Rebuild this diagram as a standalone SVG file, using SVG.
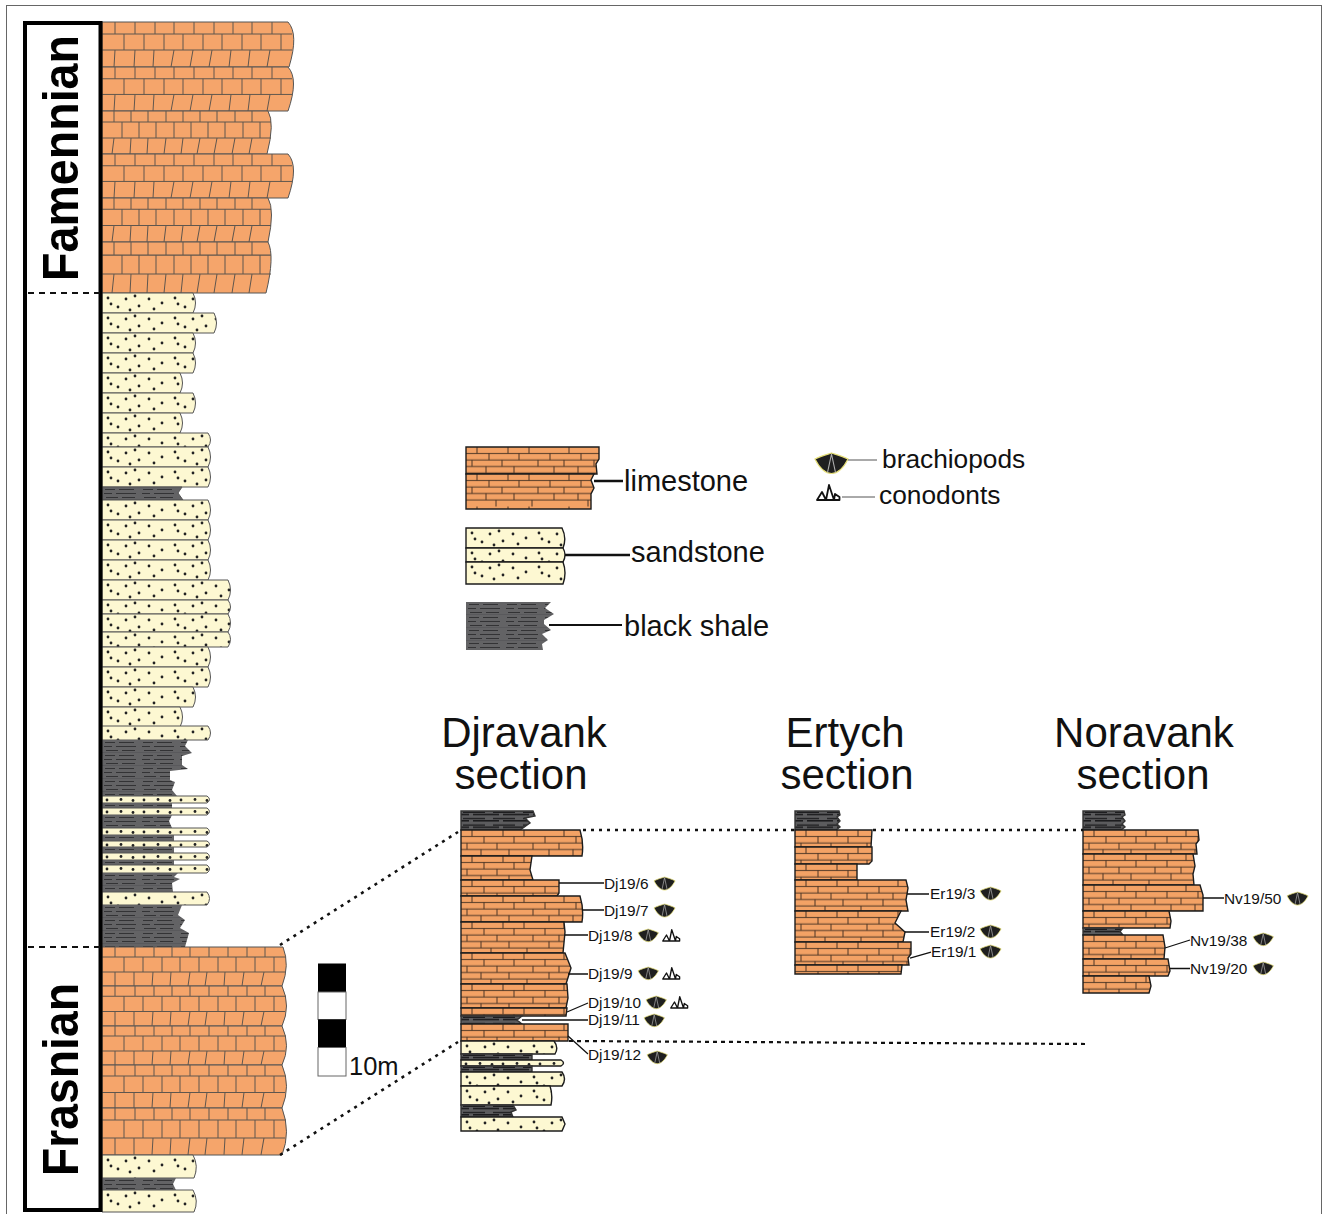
<svg xmlns="http://www.w3.org/2000/svg" xmlns:xlink="http://www.w3.org/1999/xlink" width="1324" height="1214" viewBox="0 0 1324 1214">
<style>
text{font-family:"Liberation Sans",Arial,sans-serif;fill:#111}
.per{font-size:50px;font-weight:bold;fill:#000}
.title{font-size:42px;text-anchor:middle}
.leg{font-size:29px}
.leg2{font-size:26.3px}
.lab{font-size:15.4px}
.m{stroke:#555;stroke-width:1}
.l{fill:#f5a56b}
.j{fill:none;stroke:#5f564e;stroke-width:1}
.s{stroke:#1c1c1c;stroke-width:1.4}
.lead{stroke:#111;stroke-width:1.3;fill:none}
.thick{stroke:#111;stroke-width:2.4;fill:none}
.thin{stroke:#555;stroke-width:1;fill:none}
.dot{stroke:#111;stroke-width:2.6;stroke-dasharray:3 5;fill:none}
.dash{stroke:#111;stroke-width:2.2;stroke-dasharray:6 5;fill:none}
</style>
<defs>
<path id="jF" d="M0 12H190M0 28H190M13 0V12M33 0V12M53 0V12M72 0V12M92 0V12M112 0V12M131 0V12M150 0V12M170 0V12M22 12V28M42 12V28M62 12V28M81 12V28M101 12V28M120 12V28M140 12V28M159 12V28M179 12V28M13 28L12 45M33 28L32 45M52 28L51 45M72 28L69 45M91 28L88 45M110 28L107 45M129 28L127 45M148 28L146 45M168 28L165 45"/>
<path id="jN" d="M0 11H169M0 27H169M12 0V11M29 0V11M46 0V11M64 0V11M81 0V11M98 0V11M115 0V11M133 0V11M150 0V11M20 11V27M37 11V27M54 11V27M72 11V27M89 11V27M106 11V27M123 11V27M141 11V27M158 11V27M12 27L10 43M29 27L28 43M46 27L45 43M64 27L62 43M81 27L79 43M98 27L95 43M115 27L112 43M133 27L130 43M150 27L147 43"/>
<path id="jR" d="M0 10H184M0 25H183M13 0V10M33 0V10M52 0V10M70 0V10M88 0V10M107 0V10M126 0V10M145 0V10M163 0V10M22 10V25M41 10V25M60 10V25M78 10V25M97 10V25M116 10V25M134 10V25M153 10V25M172 10V25M13 25V39M32 25V39M51 25L50 39M69 25L68 39M88 25L86 39M105 25L103 39M123 25L122 39M142 25L140 39M162 25L159 39"/>
<pattern id="limeS" patternUnits="userSpaceOnUse" width="92" height="32.5">
<rect width="92" height="32.5" fill="#f3a265"/>
<path d="M0 6.5H92M0 13H92M0 19.5H92M0 26H92M11 0V6.5M42 0V6.5M63 0V6.5M23 6.5V13M53 6.5V13M84 6.5V13M6 13V19.5M36 13V19.5M72 13V19.5M20 19.5V26M48 19.5V26M88 19.5V26M30 26V32.5M66 26V32.5" fill="none" stroke="#3a2a1e" stroke-width=".9"/>
</pattern>
<pattern id="sand" patternUnits="userSpaceOnUse" width="67" height="21" fill="#222">
<rect width="67" height="21" fill="#fdf8d2"/>
<circle cx="6" cy="5" r="1.4"/><circle cx="16" cy="14" r="1.4"/><circle cx="24" cy="6" r="1.4"/><circle cx="33" cy="3" r="1.4"/><circle cx="37" cy="13" r="1.4"/><circle cx="47" cy="6" r="1.4"/><circle cx="52" cy="16" r="1.4"/><circle cx="60" cy="10" r="1.4"/><circle cx="9" cy="11" r="1.4"/><circle cx="28" cy="17" r="1.4"/>
</pattern>
<pattern id="sandT" patternUnits="userSpaceOnUse" width="37" height="8" fill="#222">
<rect width="37" height="8" fill="#fdf8d2"/>
<circle cx="5" cy="4" r="1.4"/><circle cx="19" cy="3.5" r="1.4"/><circle cx="31" cy="4.5" r="1.4"/>
</pattern>
<pattern id="shale" patternUnits="userSpaceOnUse" width="38" height="13">
<rect width="38" height="13" fill="#636365"/>
<path d="M3 2.5H13M17 2.5H32M2 6.5H10M14 6.5H34M4 10.5H16M20 10.5H33" fill="none" stroke="#333335" stroke-width="1.1"/>
<path d="M0 12.8H38" stroke="#4c4c4e" stroke-width=".6"/>
</pattern>
<pattern id="shaleS" patternUnits="userSpaceOnUse" width="30" height="6.4">
<rect width="30" height="6.4" fill="#5c5c5e"/>
<path d="M2 1.2H24M0 3.4H8M12 3.4H30" fill="none" stroke="#141416" stroke-width="1.2"/>
</pattern>
<g id="br">
<path d="M0 6C6 3 12 1.5 16.5 0C21 1.5 27 3 33 6C29 14 23 20.5 16.5 20.5C10 20.5 4 14 0 6Z" fill="#1f1f1f" stroke="#e6df78" stroke-width="1.2"/>
<path d="M16.5 1L12.5 19.5M16.5 1L20.5 19.5" fill="none" stroke="#b0b0b0" stroke-width="1.1"/>
</g>
<g id="co">
<path d="M1 16L6 8L10 16ZM10 16L13 1L18 16ZM18 16L19 10L23.5 13V16Z" fill="#fff" stroke="#111" stroke-width="1.8" stroke-linejoin="round"/>
</g>
</defs>

<g id="frame"><rect x="6.5" y="5.5" width="1315" height="1300" fill="#fff" stroke="#666" stroke-width="1"/></g>

<g id="column">
<g class="m">
<path class="l" d="M102 22H288Q299 34 289 67H102Z"/><use href="#jF" xlink:href="#jF" class="j" x="102" y="22"/>
<path class="l" d="M102 67H288Q299 79 288 111H102Z"/><use href="#jF" xlink:href="#jF" class="j" transform="translate(102,67) scale(1,.98)"/>
<path class="l" d="M102 111H268Q275 123 267 154H102Z"/><use href="#jN" xlink:href="#jN" class="j" x="102" y="111"/>
<path class="l" d="M102 154H288Q299 166 288 198H102Z"/><use href="#jF" xlink:href="#jF" class="j" transform="translate(102,154) scale(1,.98)"/>
<path class="l" d="M102 198H268Q275 210 268 242H102Z"/><use href="#jN" xlink:href="#jN" class="j" transform="translate(102,198) scale(1,1.02)"/>
<path class="l" d="M102 242H268Q275 256 266 293H102Z"/><use href="#jN" xlink:href="#jN" class="j" transform="translate(102,242) scale(1,1.186)"/>

<path fill="url(#sand)" transform="translate(102,293)" d="M0 0H91Q96 10 91 20H0Z"/>
<path fill="url(#sand)" transform="translate(102,313)" d="M0 0H112Q117 10 112 20H0Z"/>
<path fill="url(#sand)" transform="translate(102,333)" d="M0 0H91Q96 10 91 20H0Z"/>
<path fill="url(#sand)" transform="translate(102,353)" d="M0 0H91Q96 10 91 20H0Z"/>
<path fill="url(#sand)" transform="translate(102,373)" d="M0 0H78Q83 10 78 20H0Z"/>
<path fill="url(#sand)" transform="translate(102,393)" d="M0 0H91Q96 10 91 20H0Z"/>
<path fill="url(#sand)" transform="translate(102,413)" d="M0 0H78Q83 10 78 20H0Z"/>
<path fill="url(#sand)" transform="translate(102,433)" d="M0 0H106Q111 7 106 14H0Z"/>
<path fill="url(#sand)" transform="translate(102,447)" d="M0 0H106Q111 10 106 20H0Z"/>
<path fill="url(#sand)" transform="translate(102,467)" d="M0 0H106Q111 10 106 20H0Z"/>
<path fill="url(#shale)" transform="translate(102,487)" d="M0 0H80L76 6L81 13H0Z"/>
<path fill="url(#sand)" transform="translate(102,500)" d="M0 0H106Q111 10 106 20H0Z"/>
<path fill="url(#sand)" transform="translate(102,520)" d="M0 0H106Q111 10 106 20H0Z"/>
<path fill="url(#sand)" transform="translate(102,540)" d="M0 0H106Q111 10 106 20H0Z"/>
<path fill="url(#sand)" transform="translate(102,560)" d="M0 0H106Q111 10 106 20H0Z"/>
<path fill="url(#sand)" transform="translate(102,580)" d="M0 0H126Q131 10 126 20H0Z"/>
<path fill="url(#sand)" transform="translate(102,600)" d="M0 0H126Q131 7 126 14H0Z"/>
<path fill="url(#sand)" transform="translate(102,614)" d="M0 0H126Q131 9 126 18H0Z"/>
<path fill="url(#sand)" transform="translate(102,632)" d="M0 0H126Q131 7 126 15H0Z"/>
<path fill="url(#sand)" transform="translate(102,647)" d="M0 0H106Q111 10 106 20H0Z"/>
<path fill="url(#sand)" transform="translate(102,667)" d="M0 0H106Q111 10 106 20H0Z"/>
<path fill="url(#sand)" transform="translate(102,687)" d="M0 0H91Q96 10 91 20H0Z"/>
<path fill="url(#sand)" transform="translate(102,707)" d="M0 0H78Q83 10 78 20H0Z"/>
<path fill="url(#sand)" transform="translate(102,726)" d="M0 0H106Q111 7 106 14H0Z"/>

<path fill="url(#shale)" stroke="none" transform="translate(102,740)" d="M0 0H86L83 6L90 13L80 16L80 25L86 29L68 31L68 40L73 42L70 50L75 56H0Z"/>
<path fill="url(#sandT)" transform="translate(102,796)" d="M0 0H105Q110 3.5 105 7H0Z"/>
<path fill="url(#shale)" stroke="none" transform="translate(102,803)" d="M0 0H70V5H0Z"/>
<path fill="url(#sandT)" transform="translate(102,808)" d="M0 0H105Q110 3.5 105 7H0Z"/>
<path fill="url(#shale)" stroke="none" transform="translate(102,815)" d="M0 0H70L67 6L70 13H0Z"/>
<path fill="url(#sandT)" transform="translate(102,828)" d="M0 0H105Q110 3.5 105 7H0Z"/>
<path fill="url(#shale)" stroke="none" transform="translate(102,835)" d="M0 0H72V6H0Z"/>
<path fill="url(#sandT)" transform="translate(102,841)" d="M0 0H105Q110 3 105 6H0Z"/>
<path fill="url(#shale)" stroke="none" transform="translate(102,847)" d="M0 0H72V6H0Z"/>
<path fill="url(#sandT)" transform="translate(102,853)" d="M0 0H105Q110 3.5 105 7H0Z"/>
<path fill="url(#shale)" stroke="none" transform="translate(102,860)" d="M0 0H72V5H0Z"/>
<path fill="url(#sandT)" transform="translate(102,865)" d="M0 0H105Q110 4 105 8H0Z"/>
<path fill="url(#shale)" stroke="none" transform="translate(102,873)" d="M0 0H76L72 4L78 6L70 10L71 19H0Z"/>
<path fill="url(#sand)" transform="translate(102,892)" d="M0 0H105Q110 6.5 105 13H0Z"/>
<path fill="url(#shale)" stroke="none" transform="translate(102,905)" d="M0 0H80L76 10L83 15L78 23L87 28L83 42H0Z"/>

<path class="l" d="M102 947H283Q290 965 282 986H102Z"/><use href="#jR" xlink:href="#jR" class="j" x="102" y="947"/>
<path class="l" d="M102 986H282Q291 1006 282 1026H102Z"/><use href="#jR" xlink:href="#jR" class="j" transform="translate(102,986) scale(1,1.02)"/>
<path class="l" d="M102 1026H282Q291 1046 282 1065H102Z"/><use href="#jR" xlink:href="#jR" class="j" x="102" y="1026"/>
<path class="l" d="M102 1065H282Q291 1086 282 1108H102Z"/><use href="#jR" xlink:href="#jR" class="j" transform="translate(102,1065) scale(1,1.1)"/>
<path class="l" d="M102 1108H282Q291 1132 282 1155H102Z"/><use href="#jR" xlink:href="#jR" class="j" transform="translate(102,1108) scale(1,1.2)"/>

<path fill="url(#sand)" transform="translate(102,1155)" d="M0 0H91Q97 11 92 23H0Z"/>
<path fill="url(#shale)" stroke="none" transform="translate(102,1178)" d="M0 0H74L71 6L74 12H0Z"/>
<path fill="url(#sand)" transform="translate(102,1190)" d="M0 0H91Q97 11 92 22H0Z"/>
</g>
</g>

<g id="periods">
<rect x="25" y="23" width="75.5" height="1187" fill="none" stroke="#000" stroke-width="4"/>
<text class="per" transform="translate(77.5,281) rotate(-90)" textLength="246" lengthAdjust="spacingAndGlyphs">Famennian</text>
<text class="per" transform="translate(77.5,1176) rotate(-90)" textLength="193" lengthAdjust="spacingAndGlyphs">Frasnian</text>
</g>

<g id="scale">
<rect x="318" y="963.5" width="28" height="28.5" fill="#000"/>
<rect x="318" y="992" width="28" height="27.5" fill="#fff" stroke="#666"/>
<rect x="318" y="1019.5" width="28" height="28" fill="#000"/>
<rect x="318" y="1047.5" width="28" height="28.5" fill="#fff" stroke="#666"/>
<text x="349" y="1075" style="font-size:25.5px">10m</text>
</g>

<g id="legend-limestone" class="s">
<path fill="url(#limeS)" transform="translate(466,447)" d="M0 0H133V12L130 17L131 27H0Z"/>
<path fill="url(#limeS)" transform="translate(466,474)" d="M0 0H128L125 6L128 14L125 20V35H0Z"/>
<text class="leg" x="624" y="491" stroke="none">limestone</text>
</g>
<g id="legend-sandstone" class="s">
<path fill="url(#sand)" transform="translate(466,528)" d="M0 0H96Q101 10 97 20H0Z"/>
<path fill="url(#sand)" transform="translate(466,548)" d="M0 0H97Q101 7 97 14H0Z"/>
<path fill="url(#sand)" transform="translate(466,562)" d="M0 0H97Q101 11 97 22H0Z"/>
<text class="leg" x="631" y="562" stroke="none">sandstone</text>
</g>
<g id="legend-shale">
<path fill="url(#shale)" transform="translate(466,602)" d="M0 0H85L79 6L88 12L78 18L78 22L85 28L76 32L82 38L76 42L77 48H0Z"/>
<text class="leg" x="624" y="636">black shale</text>
</g>
<g id="legend-brachiopods">
<use href="#br" xlink:href="#br" x="815" y="453"/>
<text class="leg2" x="882" y="468">brachiopods</text>
</g>
<g id="legend-conodonts">
<use href="#co" xlink:href="#co" x="816" y="484"/>
<text class="leg2" x="879" y="504">conodonts</text>
</g>

<g id="titles">
<text class="title" x="524" y="747">Djravank</text>
<text class="title" x="521" y="789">section</text>
<text class="title" x="845" y="747">Ertych</text>
<text class="title" x="847" y="789">section</text>
<text class="title" x="1144" y="747">Noravank</text>
<text class="title" x="1143" y="789">section</text>
</g>

<g id="djravank" class="s">
<path fill="url(#shaleS)" stroke="#333" transform="translate(461,811)" d="M0 0H72L74 5L64 7L69 12L59 19H0Z"/>
<path fill="url(#limeS)" transform="translate(461,830)" d="M0 0H119Q123 13 121 26H0Z"/>
<path fill="url(#limeS)" transform="translate(461,856)" d="M0 0H71L69 14L72 24H0Z"/>
<path fill="url(#limeS)" transform="translate(461,880)" d="M0 0H98V13L96 16H0Z"/>
<path fill="url(#limeS)" transform="translate(461,896)" d="M0 0H119Q123 13 121 26H0Z"/>
<path fill="url(#limeS)" transform="translate(461,922)" d="M0 0H103L104 10L102 31H0Z"/>
<path fill="url(#limeS)" transform="translate(461,953)" d="M0 0H104L110 15L105 31H0Z"/>
<path fill="url(#limeS)" transform="translate(461,984)" d="M0 0H106L107 14L105 24H0Z"/>
<path fill="url(#limeS)" transform="translate(461,1008)" d="M0 0H106L105 8H0Z"/>
<path fill="url(#shaleS)" stroke="#333" transform="translate(461,1016)" d="M0 0H61L56 4L61 8H0Z"/>
<path fill="url(#limeS)" transform="translate(461,1024)" d="M0 0H107V17H0Z"/>
<path fill="url(#sand)" transform="translate(461,1041)" d="M0 0H93Q98 6.5 94 13H0Z"/>
<path fill="url(#shaleS)" stroke="#333" transform="translate(461,1054)" d="M0 0H71V6H0Z"/>
<path fill="url(#sandT)" transform="translate(461,1060)" d="M0 0H100Q105 3 100 6H0Z"/>
<path fill="url(#shaleS)" stroke="#333" transform="translate(461,1066)" d="M0 0H71V6H0Z"/>
<path fill="url(#sand)" transform="translate(461,1072)" d="M0 0H101Q106 7 101 14H0Z"/>
<path fill="url(#sand)" transform="translate(461,1086)" d="M0 0H89Q92 9 90 19H0Z"/>
<path fill="url(#shaleS)" stroke="#333" transform="translate(461,1105)" d="M0 0H52L55 5L50 7L52 12H0Z"/>
<path fill="url(#sand)" transform="translate(461,1117)" d="M0 0H101L104 7L101 14H0Z"/>
</g>
<g id="djravank-labels">
<text class="lab" x="604" y="889">Dj19/6</text>
<text class="lab" x="604" y="916">Dj19/7</text>
<text class="lab" x="588" y="941">Dj19/8</text>
<text class="lab" x="588" y="979">Dj19/9</text>
<text class="lab" x="588" y="1008">Dj19/10</text>
<text class="lab" x="588" y="1025">Dj19/11</text>
<text class="lab" x="588" y="1060">Dj19/12</text>
<use href="#br" xlink:href="#br" transform="translate(654,877) scale(.64)"/>
<use href="#br" xlink:href="#br" transform="translate(654,904) scale(.64)"/>
<use href="#br" xlink:href="#br" transform="translate(638,929) scale(.62)"/>
<use href="#br" xlink:href="#br" transform="translate(638,967) scale(.62)"/>
<use href="#br" xlink:href="#br" transform="translate(646,996) scale(.62)"/>
<use href="#br" xlink:href="#br" transform="translate(644,1014) scale(.62)"/>
<use href="#br" xlink:href="#br" transform="translate(647,1051) scale(.62)"/>
<use href="#co" xlink:href="#co" transform="translate(662,929) scale(.75)"/>
<use href="#co" xlink:href="#co" transform="translate(662,967) scale(.75)"/>
<use href="#co" xlink:href="#co" transform="translate(670,996) scale(.75)"/>
</g>

<g id="ertych" class="s">
<path fill="url(#shaleS)" stroke="#333" transform="translate(795,811)" d="M0 0H44L45 4L42 6L45 10L42 13L45 16L41 19H0Z"/>
<path fill="url(#limeS)" transform="translate(795,830)" d="M0 0H77L76 17H0Z"/>
<path fill="url(#limeS)" transform="translate(795,847)" d="M0 0H77V14L74 17H0Z"/>
<path fill="url(#limeS)" transform="translate(795,864)" d="M0 0H62V16H0Z"/>
<path fill="url(#limeS)" transform="translate(795,880)" d="M0 0H111L113 8L111 20L113 31H0Z"/>
<path fill="url(#limeS)" transform="translate(795,911)" d="M0 0H106L100 12L110 21L108 31H0Z"/>
<path fill="url(#limeS)" transform="translate(795,942)" d="M0 0H116V12L113 16L114 23H0Z"/>
<path fill="url(#limeS)" transform="translate(795,965)" d="M0 0H107L106 9H0Z"/>
</g>
<g id="ertych-labels">
<text class="lab" x="930" y="899">Er19/3</text>
<text class="lab" x="930" y="937">Er19/2</text>
<text class="lab" x="931" y="957">Er19/1</text>
<use href="#br" xlink:href="#br" transform="translate(980,887) scale(.64)"/>
<use href="#br" xlink:href="#br" transform="translate(980,925) scale(.64)"/>
<use href="#br" xlink:href="#br" transform="translate(980,945) scale(.64)"/>
</g>

<g id="noravank" class="s">
<path fill="url(#shaleS)" stroke="#333" transform="translate(1083,811)" d="M0 0H41L42 4L39 6L42 10L39 13L42 16L38 19H0Z"/>
<path fill="url(#limeS)" transform="translate(1083,830)" d="M0 0H115L116 10L113 14L114 24H0Z"/>
<path fill="url(#limeS)" transform="translate(1083,854)" d="M0 0H110L112 12L110 20L111 31H0Z"/>
<path fill="url(#limeS)" transform="translate(1083,885)" d="M0 0H117L120 10V26H0Z"/>
<path fill="url(#limeS)" transform="translate(1083,911)" d="M0 0H86L88 10L87 17H0Z"/>
<path fill="url(#shaleS)" stroke="#333" transform="translate(1083,928)" d="M0 0H40L37 3.5L40 7H0Z"/>
<path fill="url(#limeS)" transform="translate(1083,935)" d="M0 0H80L82 12L81 24H0Z"/>
<path fill="url(#limeS)" transform="translate(1083,959)" d="M0 0H85L87 12L85 17H0Z"/>
<path fill="url(#limeS)" transform="translate(1083,976)" d="M0 0H66L68 10L66 17H0Z"/>
</g>
<g id="noravank-labels">
<text class="lab" x="1224" y="904">Nv19/50</text>
<text class="lab" x="1190" y="946">Nv19/38</text>
<text class="lab" x="1190" y="974">Nv19/20</text>
<use href="#br" xlink:href="#br" transform="translate(1287,892) scale(.64)"/>
<use href="#br" xlink:href="#br" transform="translate(1253,933) scale(.62)"/>
<use href="#br" xlink:href="#br" transform="translate(1253,962) scale(.62)"/>
</g>

<g id="connectors">
<path class="dash" d="M28 293H100M28 947H100"/>
<path class="dot" d="M280 945L458 832M280 1155L458 1042M583 830H795M873 830H1083"/>
<path class="dash" style="stroke-dasharray:4 4" d="M569 1041L1086 1044"/>
<path class="thick" d="M594 481H623M565 555H630"/>
<path class="thick" style="stroke-width:2" d="M549 625H622"/>
<path class="thin" d="M848 460H877M842 497H875"/>
<path class="lead" d="M559 883H604M582 910H604M565 935H588M568 974H588M567 1012L588 1003M522 1020H588M568 1036L588 1054"/>
<path class="lead" d="M907 894H929M905 932H929M910 958L931 952"/>
<path class="lead" d="M1203 898H1224M1165 948L1190 940M1170 968.5H1190"/>
</g>
</svg>
